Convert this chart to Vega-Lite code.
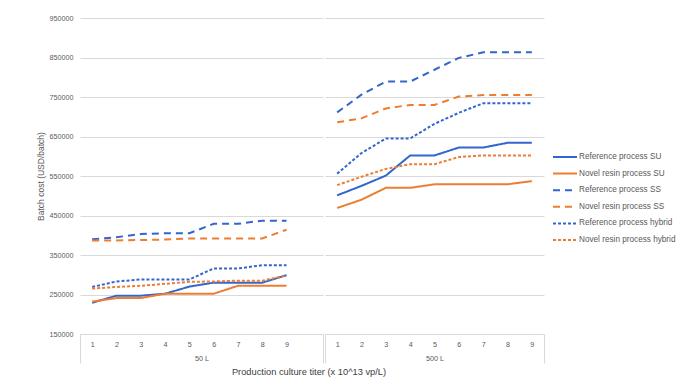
{
  "$schema": "https://vega.github.io/schema/vega-lite/v6.json",
  "background": "white",
  "padding": {"left": 36, "top": 14, "right": 0, "bottom": 0},
  "config": {
    "font": "Liberation Sans",
    "view": {"stroke": null},
    "concat": {"spacing": 0},
    "axis": {"labelColor": "#595959", "titleColor": "#595959", "titleFontWeight": "normal", "labelFontSize": 7.2, "titleFontSize": 8.5},
    "legend": {"orient": "none", "legendX": 472, "legendY": 133, "symbolType": "stroke", "symbolSize": 576, "symbolStrokeWidth": 2, "labelFontSize": 8.2, "labelColor": "#595959", "labelOffset": 1, "clipHeight": 12, "rowPadding": 4.6, "labelLimit": 200}
  },
  "title": {"text": "Production culture titer (x 10^13 vp/L)", "orient": "bottom", "anchor": "middle", "fontSize": 9.3, "fontWeight": "normal", "color": "#404040", "offset": -8, "dx": -47},
  "datasets": {
    "costs": [
      {"group": "50 L", "series": "Reference process SU", "titer": 1, "cost": 229000},
      {"group": "50 L", "series": "Reference process SU", "titer": 2, "cost": 247000},
      {"group": "50 L", "series": "Reference process SU", "titer": 3, "cost": 247000},
      {"group": "50 L", "series": "Reference process SU", "titer": 4, "cost": 252000},
      {"group": "50 L", "series": "Reference process SU", "titer": 5, "cost": 270000},
      {"group": "50 L", "series": "Reference process SU", "titer": 6, "cost": 280000},
      {"group": "50 L", "series": "Reference process SU", "titer": 7, "cost": 280000},
      {"group": "50 L", "series": "Reference process SU", "titer": 8, "cost": 280000},
      {"group": "50 L", "series": "Reference process SU", "titer": 9, "cost": 299000},
      {"group": "50 L", "series": "Novel resin process SU", "titer": 1, "cost": 232000},
      {"group": "50 L", "series": "Novel resin process SU", "titer": 2, "cost": 241000},
      {"group": "50 L", "series": "Novel resin process SU", "titer": 3, "cost": 241000},
      {"group": "50 L", "series": "Novel resin process SU", "titer": 4, "cost": 252000},
      {"group": "50 L", "series": "Novel resin process SU", "titer": 5, "cost": 252000},
      {"group": "50 L", "series": "Novel resin process SU", "titer": 6, "cost": 252000},
      {"group": "50 L", "series": "Novel resin process SU", "titer": 7, "cost": 272000},
      {"group": "50 L", "series": "Novel resin process SU", "titer": 8, "cost": 272000},
      {"group": "50 L", "series": "Novel resin process SU", "titer": 9, "cost": 272000},
      {"group": "50 L", "series": "Reference process SS", "titer": 1, "cost": 390000},
      {"group": "50 L", "series": "Reference process SS", "titer": 2, "cost": 395000},
      {"group": "50 L", "series": "Reference process SS", "titer": 3, "cost": 403000},
      {"group": "50 L", "series": "Reference process SS", "titer": 4, "cost": 405000},
      {"group": "50 L", "series": "Reference process SS", "titer": 5, "cost": 405000},
      {"group": "50 L", "series": "Reference process SS", "titer": 6, "cost": 429000},
      {"group": "50 L", "series": "Reference process SS", "titer": 7, "cost": 429000},
      {"group": "50 L", "series": "Reference process SS", "titer": 8, "cost": 437000},
      {"group": "50 L", "series": "Reference process SS", "titer": 9, "cost": 437000},
      {"group": "50 L", "series": "Novel resin process SS", "titer": 1, "cost": 387000},
      {"group": "50 L", "series": "Novel resin process SS", "titer": 2, "cost": 387000},
      {"group": "50 L", "series": "Novel resin process SS", "titer": 3, "cost": 388000},
      {"group": "50 L", "series": "Novel resin process SS", "titer": 4, "cost": 389000},
      {"group": "50 L", "series": "Novel resin process SS", "titer": 5, "cost": 392000},
      {"group": "50 L", "series": "Novel resin process SS", "titer": 6, "cost": 392000},
      {"group": "50 L", "series": "Novel resin process SS", "titer": 7, "cost": 392000},
      {"group": "50 L", "series": "Novel resin process SS", "titer": 8, "cost": 392000},
      {"group": "50 L", "series": "Novel resin process SS", "titer": 9, "cost": 414000},
      {"group": "50 L", "series": "Reference process hybrid", "titer": 1, "cost": 269000},
      {"group": "50 L", "series": "Reference process hybrid", "titer": 2, "cost": 283000},
      {"group": "50 L", "series": "Reference process hybrid", "titer": 3, "cost": 288000},
      {"group": "50 L", "series": "Reference process hybrid", "titer": 4, "cost": 288000},
      {"group": "50 L", "series": "Reference process hybrid", "titer": 5, "cost": 288000},
      {"group": "50 L", "series": "Reference process hybrid", "titer": 6, "cost": 316000},
      {"group": "50 L", "series": "Reference process hybrid", "titer": 7, "cost": 316000},
      {"group": "50 L", "series": "Reference process hybrid", "titer": 8, "cost": 324000},
      {"group": "50 L", "series": "Reference process hybrid", "titer": 9, "cost": 324000},
      {"group": "50 L", "series": "Novel resin process hybrid", "titer": 1, "cost": 265000},
      {"group": "50 L", "series": "Novel resin process hybrid", "titer": 2, "cost": 269000},
      {"group": "50 L", "series": "Novel resin process hybrid", "titer": 3, "cost": 272000},
      {"group": "50 L", "series": "Novel resin process hybrid", "titer": 4, "cost": 277000},
      {"group": "50 L", "series": "Novel resin process hybrid", "titer": 5, "cost": 282000},
      {"group": "50 L", "series": "Novel resin process hybrid", "titer": 6, "cost": 283000},
      {"group": "50 L", "series": "Novel resin process hybrid", "titer": 7, "cost": 285000},
      {"group": "50 L", "series": "Novel resin process hybrid", "titer": 8, "cost": 285000},
      {"group": "50 L", "series": "Novel resin process hybrid", "titer": 9, "cost": 298000},
      {"group": "500 L", "series": "Reference process SU", "titer": 1, "cost": 501000},
      {"group": "500 L", "series": "Reference process SU", "titer": 2, "cost": 525000},
      {"group": "500 L", "series": "Reference process SU", "titer": 3, "cost": 551000},
      {"group": "500 L", "series": "Reference process SU", "titer": 4, "cost": 602000},
      {"group": "500 L", "series": "Reference process SU", "titer": 5, "cost": 602000},
      {"group": "500 L", "series": "Reference process SU", "titer": 6, "cost": 622000},
      {"group": "500 L", "series": "Reference process SU", "titer": 7, "cost": 622000},
      {"group": "500 L", "series": "Reference process SU", "titer": 8, "cost": 634000},
      {"group": "500 L", "series": "Reference process SU", "titer": 9, "cost": 634000},
      {"group": "500 L", "series": "Novel resin process SU", "titer": 1, "cost": 469000},
      {"group": "500 L", "series": "Novel resin process SU", "titer": 2, "cost": 490000},
      {"group": "500 L", "series": "Novel resin process SU", "titer": 3, "cost": 520000},
      {"group": "500 L", "series": "Novel resin process SU", "titer": 4, "cost": 520000},
      {"group": "500 L", "series": "Novel resin process SU", "titer": 5, "cost": 529000},
      {"group": "500 L", "series": "Novel resin process SU", "titer": 6, "cost": 529000},
      {"group": "500 L", "series": "Novel resin process SU", "titer": 7, "cost": 529000},
      {"group": "500 L", "series": "Novel resin process SU", "titer": 8, "cost": 529000},
      {"group": "500 L", "series": "Novel resin process SU", "titer": 9, "cost": 537000},
      {"group": "500 L", "series": "Reference process SS", "titer": 1, "cost": 711000},
      {"group": "500 L", "series": "Reference process SS", "titer": 2, "cost": 756000},
      {"group": "500 L", "series": "Reference process SS", "titer": 3, "cost": 789000},
      {"group": "500 L", "series": "Reference process SS", "titer": 4, "cost": 789000},
      {"group": "500 L", "series": "Reference process SS", "titer": 5, "cost": 819000},
      {"group": "500 L", "series": "Reference process SS", "titer": 6, "cost": 849000},
      {"group": "500 L", "series": "Reference process SS", "titer": 7, "cost": 863000},
      {"group": "500 L", "series": "Reference process SS", "titer": 8, "cost": 863000},
      {"group": "500 L", "series": "Reference process SS", "titer": 9, "cost": 863000},
      {"group": "500 L", "series": "Novel resin process SS", "titer": 1, "cost": 686000},
      {"group": "500 L", "series": "Novel resin process SS", "titer": 2, "cost": 696000},
      {"group": "500 L", "series": "Novel resin process SS", "titer": 3, "cost": 721000},
      {"group": "500 L", "series": "Novel resin process SS", "titer": 4, "cost": 730000},
      {"group": "500 L", "series": "Novel resin process SS", "titer": 5, "cost": 730000},
      {"group": "500 L", "series": "Novel resin process SS", "titer": 6, "cost": 751000},
      {"group": "500 L", "series": "Novel resin process SS", "titer": 7, "cost": 755000},
      {"group": "500 L", "series": "Novel resin process SS", "titer": 8, "cost": 755000},
      {"group": "500 L", "series": "Novel resin process SS", "titer": 9, "cost": 755000},
      {"group": "500 L", "series": "Reference process hybrid", "titer": 1, "cost": 556000},
      {"group": "500 L", "series": "Reference process hybrid", "titer": 2, "cost": 608000},
      {"group": "500 L", "series": "Reference process hybrid", "titer": 3, "cost": 645000},
      {"group": "500 L", "series": "Reference process hybrid", "titer": 4, "cost": 645000},
      {"group": "500 L", "series": "Reference process hybrid", "titer": 5, "cost": 682000},
      {"group": "500 L", "series": "Reference process hybrid", "titer": 6, "cost": 710000},
      {"group": "500 L", "series": "Reference process hybrid", "titer": 7, "cost": 734000},
      {"group": "500 L", "series": "Reference process hybrid", "titer": 8, "cost": 734000},
      {"group": "500 L", "series": "Reference process hybrid", "titer": 9, "cost": 734000},
      {"group": "500 L", "series": "Novel resin process hybrid", "titer": 1, "cost": 527000},
      {"group": "500 L", "series": "Novel resin process hybrid", "titer": 2, "cost": 548000},
      {"group": "500 L", "series": "Novel resin process hybrid", "titer": 3, "cost": 568000},
      {"group": "500 L", "series": "Novel resin process hybrid", "titer": 4, "cost": 580000},
      {"group": "500 L", "series": "Novel resin process hybrid", "titer": 5, "cost": 580000},
      {"group": "500 L", "series": "Novel resin process hybrid", "titer": 6, "cost": 598000},
      {"group": "500 L", "series": "Novel resin process hybrid", "titer": 7, "cost": 602000},
      {"group": "500 L", "series": "Novel resin process hybrid", "titer": 8, "cost": 602000},
      {"group": "500 L", "series": "Novel resin process hybrid", "titer": 9, "cost": 602000}
    ]
  },
  "data": {"name": "costs"},
  "resolve": {"scale": {"y": "shared", "color": "shared", "strokeDash": "shared"}},
  "hconcat": [
    {
      "width": 243,
      "height": 316,
      "transform": [{"filter": "datum.group === '50 L'"}],
      "mark": {"type": "line", "strokeWidth": 2, "strokeCap": "butt"},
      "encoding": {
        "x": {
          "field": "titer", "type": "quantitative",
          "scale": {"domain": [0.5, 10.5], "nice": false, "zero": false},
          "axis": {
            "values": [0.5, 1, 2, 3, 4, 5, 6, 7, 8, 9, 10.5],
            "labelExpr": "datum.value >= 1 && datum.value <= 9 ? datum.label : ''",
            "grid": false, "domainColor": "#D9D9D9", "tickColor": "#D9D9D9",
            "tickSize": {"condition": {"test": "datum.value % 1 != 0", "value": 29}, "value": 0},
            "labelPadding": 6, "labelFlush": false, "labelOverlap": false,
            "title": "50 L", "titleY": 24, "titleBaseline": "middle", "titleFontSize": 7.2
          }
        },
        "y": {
          "field": "cost", "type": "quantitative",
          "scale": {"domain": [150000, 950000], "nice": false, "zero": false},
          "axis": {
            "values": [150000, 250000, 350000, 450000, 550000, 650000, 750000, 850000, 950000],
            "format": "d", "grid": true, "gridColor": "#D9D9D9", "domain": false, "ticks": false,
            "labelPadding": 7, "title": "Batch cost (USD/batch)", "titlePadding": 4
          }
        },
        "color": {
          "field": "series", "type": "nominal",
          "scale": {
            "domain": ["Reference process SU", "Novel resin process SU", "Reference process SS", "Novel resin process SS", "Reference process hybrid", "Novel resin process hybrid"],
            "range": ["#3366CC", "#ED7D31", "#3366CC", "#ED7D31", "#3366CC", "#ED7D31"]
          },
          "legend": {"title": null}
        },
        "strokeDash": {
          "field": "series", "type": "nominal",
          "scale": {
            "domain": ["Reference process SU", "Novel resin process SU", "Reference process SS", "Novel resin process SS", "Reference process hybrid", "Novel resin process hybrid"],
            "range": [[1, 0], [1, 0], [7, 5], [7, 5], [3, 2], [3, 2]]
          },
          "legend": {"title": null}
        }
      }
    },
    {
      "width": 219,
      "height": 316,
      "transform": [{"filter": "datum.group === '500 L'"}],
      "mark": {"type": "line", "strokeWidth": 2, "strokeCap": "butt"},
      "encoding": {
        "x": {
          "field": "titer", "type": "quantitative",
          "scale": {"domain": [0.5, 9.5], "nice": false, "zero": false},
          "axis": {
            "values": [0.5, 1, 2, 3, 4, 5, 6, 7, 8, 9, 9.5],
            "labelExpr": "datum.value >= 1 && datum.value <= 9 ? datum.label : ''",
            "grid": false, "domainColor": "#D9D9D9", "tickColor": "#D9D9D9",
            "tickSize": {"condition": {"test": "datum.value % 1 != 0", "value": 29}, "value": 0},
            "labelPadding": 6, "labelFlush": false, "labelOverlap": false,
            "title": "500 L", "titleY": 24, "titleBaseline": "middle", "titleFontSize": 7.2
          }
        },
        "y": {
          "field": "cost", "type": "quantitative",
          "axis": {
            "values": [150000, 250000, 350000, 450000, 550000, 650000, 750000, 850000, 950000],
            "grid": true, "gridColor": "#D9D9D9", "domain": false, "ticks": false, "labels": false, "title": null
          }
        },
        "color": {"field": "series", "type": "nominal"},
        "strokeDash": {"field": "series", "type": "nominal"}
      }
    }
  ]
}
